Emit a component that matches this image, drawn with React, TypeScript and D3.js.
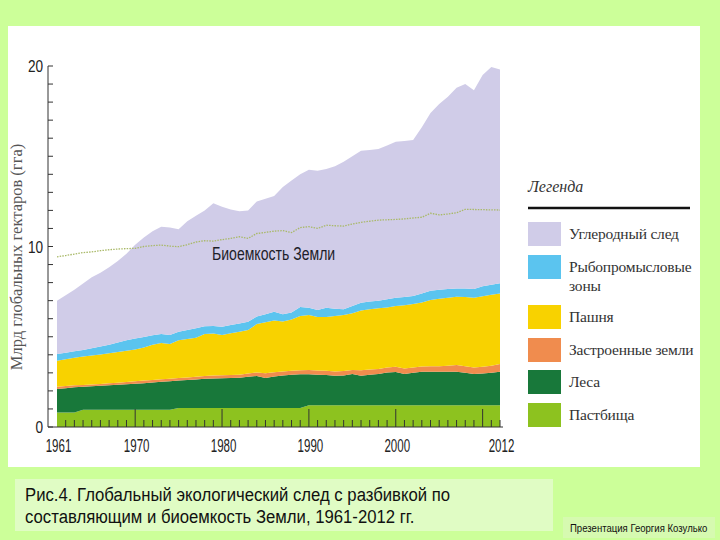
import { useEffect, useRef } from "react";
import * as d3 from "d3";

// годы 1961..2012
const years = d3.range(1961, 2013);

// слои следа, млрд гга (снизу вверх)
const pasture = [
  0.8, 0.8, 0.8,
  0.95, 0.95, 0.95, 0.95, 0.95, 0.95, 0.95, 0.95, 0.95, 0.95, 0.95,
  1.05, 1.05, 1.05, 1.05, 1.05, 1.05, 1.05, 1.05, 1.05, 1.05, 1.05, 1.05, 1.05, 1.05, 1.05,
  1.2, 1.2, 1.2, 1.2, 1.2, 1.2, 1.2, 1.2, 1.2, 1.2, 1.2, 1.2, 1.2, 1.2, 1.2, 1.2, 1.2, 1.2, 1.2, 1.2, 1.2, 1.2, 1.2,
];
const forest = [
  1.3, 1.35, 1.4, 1.28, 1.31, 1.33, 1.36, 1.39, 1.42, 1.45,
  1.48, 1.52, 1.56, 1.59, 1.52, 1.55, 1.58, 1.62, 1.64, 1.65,
  1.66, 1.68, 1.73, 1.78, 1.67, 1.75, 1.81, 1.84, 1.87, 1.72,
  1.7, 1.68, 1.64, 1.66, 1.74, 1.64, 1.7, 1.74, 1.82, 1.85,
  1.74, 1.8, 1.86, 1.86, 1.86, 1.86, 1.86, 1.8, 1.74, 1.76,
  1.8, 1.86,
];
const builtUp = [
  0.13, 0.12, 0.11, 0.1, 0.1, 0.1, 0.11, 0.11, 0.12, 0.13,
  0.14, 0.14, 0.13, 0.13, 0.14, 0.14, 0.15, 0.15, 0.16, 0.17,
  0.17, 0.17, 0.18, 0.19, 0.26, 0.24, 0.22, 0.22, 0.23, 0.24,
  0.23, 0.23, 0.24, 0.24, 0.22, 0.3, 0.28, 0.28, 0.28, 0.29,
  0.3, 0.3, 0.29, 0.3, 0.31, 0.33, 0.37, 0.36, 0.36, 0.38,
  0.4, 0.43,
];
const cropland = [
  1.44, 1.48, 1.52, 1.57, 1.6, 1.64, 1.66, 1.7, 1.74, 1.77,
  1.83, 1.94, 2.01, 1.93, 2.09, 2.14, 2.17, 2.33, 2.33, 2.23,
  2.32, 2.38, 2.41, 2.68, 2.82, 2.86, 2.77, 2.84, 3.0, 3.04,
  2.97, 2.99, 3.07, 3.1, 3.14, 3.31, 3.34, 3.36, 3.32, 3.36,
  3.51, 3.52, 3.55, 3.68, 3.73, 3.77, 3.79, 3.84, 3.86, 3.91,
  3.92, 3.91,
];
const fishing = [
  0.37, 0.37, 0.37, 0.37, 0.4, 0.44, 0.48, 0.53, 0.57, 0.6,
  0.58, 0.53, 0.5, 0.5, 0.48, 0.5, 0.52, 0.43, 0.42, 0.46,
  0.45, 0.46, 0.46, 0.42, 0.45, 0.48, 0.4, 0.4, 0.5, 0.4,
  0.38, 0.5, 0.4, 0.32, 0.4, 0.43, 0.43, 0.42, 0.46, 0.46,
  0.45, 0.44, 0.5, 0.51, 0.5, 0.49, 0.46, 0.48, 0.49, 0.55,
  0.56, 0.56,
];
const carbon = [
  2.96, 3.18, 3.4, 3.68, 3.94, 4.09, 4.29, 4.52, 4.8, 5.2,
  5.52, 5.77, 5.95, 5.95, 5.67, 6.02, 6.23, 6.42, 6.8, 6.64,
  6.4, 6.21, 6.17, 6.38, 6.4, 6.42, 7.05, 7.3, 7.35, 7.65,
  7.72, 7.7, 7.9, 8.18, 8.3, 8.42, 8.4, 8.4, 8.52, 8.64,
  8.65, 8.64, 9.2, 9.85, 10.3, 10.65, 11.12, 11.32, 11.0, 11.7,
  12.07, 11.84,
];
// биоемкость Земли
const biocapacity = [
  9.43, 9.5, 9.58, 9.66, 9.7, 9.77, 9.82, 9.86, 9.88, 9.9,
  10.0, 10.05, 10.08, 10.02, 9.99, 10.1, 10.25, 10.32, 10.3, 10.38,
  10.45, 10.54, 10.45, 10.72, 10.78, 10.85, 10.88, 10.77, 11.05, 11.1,
  11.0, 11.18, 11.15, 11.13, 11.25, 11.34, 11.4, 11.46, 11.48, 11.5,
  11.53, 11.58, 11.62, 11.84, 11.75, 11.8, 11.87, 12.06, 12.05, 12.04,
  12.03, 12.02,
];

const layerKeys = ["pasture", "forest", "builtUp", "cropland", "fishing", "carbon"];
const layerColors = ["#8dc21f", "#18783a", "#f08c4e", "#f8d200", "#5bc4ef", "#d0cce8"];
const legendLabels = [
  ["Углеродный след"],
  ["Рыбопромысловые", "зоны"],
  ["Пашня"],
  ["Застроенные земли"],
  ["Леса"],
  ["Пастбища"],
];
const legendColors = ["#d0cce8", "#5bc4ef", "#f8d200", "#f08c4e", "#18783a", "#8dc21f"];
const yearLabels = [1961, 1970, 1980, 1990, 2000, 2012];
const yTickLabels = [0, 10, 20];
const caption = [
  "Рис.4. Глобальный экологический след с разбивкой по",
  "составляющим и биоемкость Земли, 1961-2012 гг.",
];

const sans = "'Liberation Sans', Arial, sans-serif";
const serif = "'Liberation Serif', 'Times New Roman', serif";

// узкого шрифта нет — сжимаем обычный по горизонтали
const narrowText = (parent: any, x: number, y: number, size: number, text: string | number,
  anchor = "start", squeeze = 0.82, fill = "#222") =>
  parent.append("text")
    .attr("transform", `translate(${x},${y}) scale(${squeeze},1)`)
    .attr("text-anchor", anchor)
    .attr("font-family", sans).attr("font-size", size)
    .attr("fill", fill)
    .text(text);

export default function App() {
  const svgRef = useRef<SVGSVGElement>(null);

  useEffect(() => {
    const svg = d3.select(svgRef.current);
    svg.selectAll("*").remove();

    // фон страницы и панели
    svg.append("rect").attr("width", 720).attr("height", 540).attr("fill", "#ccff99");
    svg.append("rect").attr("x", 8).attr("y", 26).attr("width", 692).attr("height", 441).attr("fill", "#ffffff");

    const x = d3.scaleLinear().domain([1961, 2012]).range([57, 500]);
    const y = d3.scaleLinear().domain([0, 20]).range([427, 66]);

    const rows = years.map((yr, i) => ({
      year: yr,
      pasture: pasture[i],
      forest: forest[i],
      builtUp: builtUp[i],
      cropland: cropland[i],
      fishing: fishing[i],
      carbon: carbon[i],
    }));

    const series = d3.stack<any>().keys(layerKeys)(rows);
    const area = d3.area<any>()
      .x((d) => x(d.data.year))
      .y0((d) => y(d[0]))
      .y1((d) => y(d[1]));

    const plot = svg.append("g");
    plot.selectAll("path.layer").data(series).join("path")
      .attr("class", "layer")
      .attr("d", area as any)
      .attr("fill", (_d, i) => layerColors[i]);

    // биоемкость
    const line = d3.line<number>().x((_d, i) => x(years[i])).y((d) => y(d));
    plot.append("path")
      .attr("d", line(biocapacity))
      .attr("fill", "none")
      .attr("stroke", "#a9b968")
      .attr("stroke-width", 1.3)
      .attr("stroke-dasharray", "1.5,1.2");

    narrowText(plot, 212, 260, 19, "Биоемкость Земли", "start", 0.74, "#1e1e2a");

    // ось Y
    const axisColor = "#333";
    const yAxis = svg.append("g");
    yAxis.append("line").attr("x1", 48).attr("x2", 48).attr("y1", y(20)).attr("y2", y(0))
      .attr("stroke", axisColor).attr("stroke-width", 1);
    yAxis.selectAll("line.tick").data(d3.range(0, 21)).join("line")
      .attr("class", "tick")
      .attr("x1", 48).attr("x2", 53)
      .attr("y1", (d) => y(d)).attr("y2", (d) => y(d))
      .attr("stroke", axisColor);
    yTickLabels.forEach((d) => narrowText(yAxis, 43, y(d) + 6, 17, d, "end", 0.8));

    svg.append("text")
      .attr("transform", "translate(22,257) rotate(-90)")
      .attr("text-anchor", "middle")
      .attr("font-family", serif).attr("font-size", 16.5)
      .attr("fill", "#555")
      .text("Млрд глобальных гектаров (гга)");

    // ось X
    const xAxis = svg.append("g");
    xAxis.append("line").attr("x1", 48).attr("x2", 503).attr("y1", 427).attr("y2", 427)
      .attr("stroke", axisColor);
    xAxis.selectAll("line.tick").data(years.slice(1)).join("line")
      .attr("class", "tick")
      .attr("x1", (d) => x(d)).attr("x2", (d) => x(d))
      .attr("y1", 427).attr("y2", (d) => (d % 10 === 0 ? 409 : 420))
      .attr("stroke", axisColor).attr("stroke-width", 1);
    yearLabels.forEach((d) => narrowText(xAxis, x(d) + 1.5, 452, 18, d, "middle", 0.64));

    // легенда
    const legend = svg.append("g");
    legend.append("text")
      .attr("x", 528).attr("y", 192)
      .attr("font-family", serif).attr("font-style", "italic").attr("font-size", 16)
      .attr("fill", "#333")
      .text("Легенда");
    legend.append("line").attr("x1", 528).attr("x2", 690).attr("y1", 208).attr("y2", 208)
      .attr("stroke", "#111").attr("stroke-width", 2.5);

    const swatchY = [222, 255, 305, 338, 370, 403];
    legendLabels.forEach((lines, i) => {
      legend.append("rect")
        .attr("x", 528).attr("y", swatchY[i]).attr("width", 33).attr("height", 24)
        .attr("fill", legendColors[i]);
      lines.forEach((t, j) => {
        legend.append("text")
          .attr("x", 569).attr("y", swatchY[i] + 17 + j * 19)
          .attr("font-family", serif).attr("font-size", 15.5)
          .attr("letter-spacing", -0.2)
          .attr("fill", "#333")
          .text(t);
      });
    });

    // подпись
    svg.append("rect").attr("x", 15).attr("y", 479).attr("width", 538).attr("height", 52).attr("fill", "#e0fcc4");
    const capG = svg.append("g");
    caption.forEach((t, i) => narrowText(capG, 25, 501 + i * 22, 19, t, "start", 0.88, "#111"));

    svg.append("rect").attr("x", 563).attr("y", 517).attr("width", 152).attr("height", 21).attr("fill", "#d6fab0");
    narrowText(svg, 570, 532, 11, "Презентация Георгия Козулько", "start", 0.87, "#111");
  }, []);

  return (
    <svg ref={svgRef} width={720} height={540}
      style={{ position: "absolute", left: 0, top: 0, display: "block" }} />
  );
}
